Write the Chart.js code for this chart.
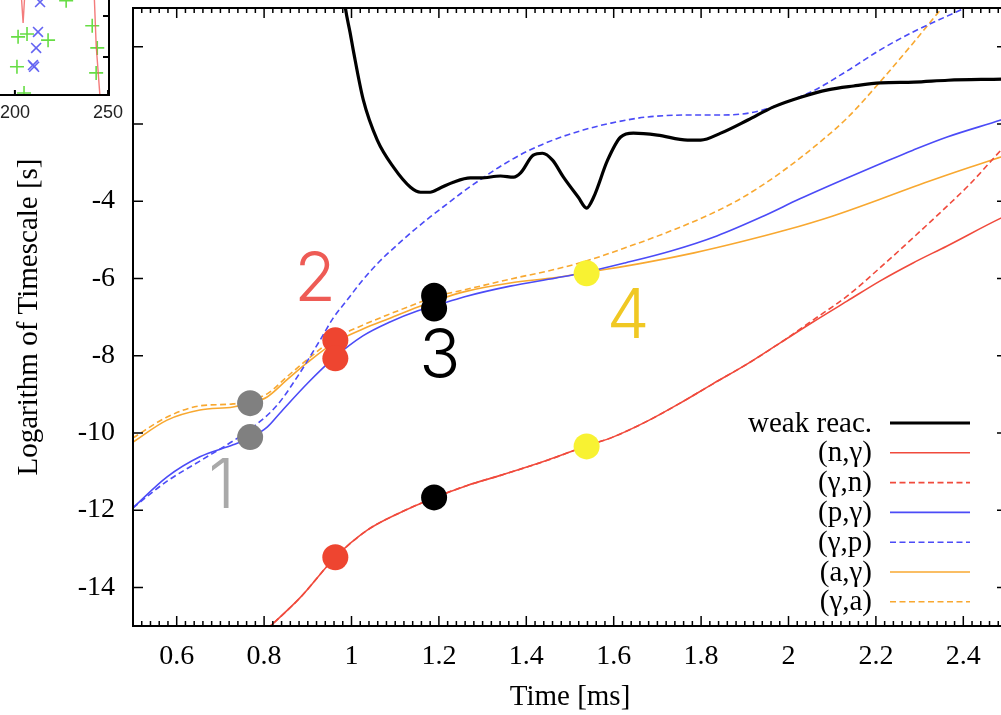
<!DOCTYPE html>
<html>
<head>
<meta charset="utf-8">
<script src="https://cdn.jsdelivr.net/npm/chart.js@4.4.0/dist/chart.umd.min.js"></script>
<style>
  html, body { margin: 0; padding: 0; background: #fff; overflow: hidden; }
  #wrap { position: relative; width: 1008px; height: 715px; overflow: hidden; }
  #main { position: absolute; left: 0; top: 0; }
  #inset { position: absolute; left: 0; top: 0; background: #fff; }
</style>
</head>
<body>
<div id="wrap">
  <canvas id="main" width="1008" height="715"></canvas>
  <canvas id="inset" width="125" height="135"></canvas>
</div>
<script>
// 축 눈금
const xTicks = [0.6, 0.8, 1.0, 1.2, 1.4, 1.6, 1.8, 2.0, 2.2, 2.4];
const xMinorStep = 0.02;
const yTicks = [-14, -12, -10, -8, -6, -4, -2, 0];

// 범례 이름
const seriesLabels = ["weak reac.", "(n,γ)", "(γ,n)", "(p,γ)", "(γ,p)", "(a,γ)", "(γ,a)"];

// 곡선 데이터 [시간 ms, log 시간척도 s]
const weakReac = [
    [0.975, 2.0], [0.986, 1.0], [0.997, 0.35], [1.004, -0.09], [1.027, -1.38], [1.059, -2.42],
    [1.096, -3.12], [1.135, -3.64], [1.158, -3.77], [1.180, -3.77], [1.203, -3.66], [1.233, -3.51],
    [1.272, -3.40], [1.295, -3.40], [1.341, -3.35], [1.371, -3.38], [1.387, -3.27], [1.416, -2.81],
    [1.437, -2.76], [1.460, -2.94], [1.485, -3.38], [1.519, -3.90], [1.538, -4.18], [1.554, -3.90],
    [1.586, -2.94], [1.616, -2.34], [1.645, -2.24], [1.700, -2.29], [1.769, -2.42], [1.799, -2.42],
    [1.845, -2.24], [1.907, -1.90], [1.966, -1.56], [2.028, -1.31], [2.090, -1.12], [2.149, -1.02],
    [2.211, -0.94], [2.287, -0.92], [2.365, -0.87], [2.489, -0.84], [2.52, -0.83],
];
const nGamma = [
    [0.76, -15.6], [0.814, -15.01], [0.883, -14.26], [0.963, -13.22], [1.036, -12.52], [1.112, -12.06],
    [1.187, -11.69], [1.265, -11.36], [1.341, -11.10], [1.448, -10.71], [1.537, -10.34], [1.598, -10.11],
    [1.678, -9.69], [1.752, -9.23], [1.827, -8.73], [1.905, -8.22], [1.981, -7.67], [2.056, -7.13],
    [2.134, -6.59], [2.209, -6.07], [2.285, -5.60], [2.363, -5.16], [2.486, -4.44], [2.52, -4.27],
];
const gammaN = [
    [0.76, -15.6], [0.814, -15.01], [0.883, -14.26], [0.963, -13.22], [1.036, -12.52], [1.112, -12.06],
    [1.187, -11.69], [1.265, -11.36], [1.341, -11.10], [1.448, -10.71], [1.537, -10.34], [1.598, -10.11],
    [1.678, -9.69], [1.752, -9.23], [1.827, -8.73], [1.905, -8.22], [1.981, -7.67], [2.056, -7.08],
    [2.134, -6.46], [2.209, -5.73], [2.285, -4.95], [2.363, -4.13], [2.415, -3.56], [2.486, -2.68], [2.507, -2.42],
];
const pGamma = [
    [0.5, -11.94], [0.578, -11.14], [0.653, -10.62], [0.729, -10.31], [0.768, -10.13], [0.807, -9.85],
    [0.836, -9.49], [0.900, -8.71], [0.960, -8.06], [1.026, -7.49], [1.088, -7.13], [1.152, -6.84],
    [1.189, -6.72], [1.257, -6.48], [1.363, -6.20], [1.468, -5.99], [1.537, -5.84], [1.626, -5.60],
    [1.731, -5.29], [1.836, -4.90], [1.942, -4.39], [2.026, -3.94], [2.134, -3.40], [2.209, -3.04],
    [2.285, -2.68], [2.363, -2.34], [2.486, -1.90], [2.507, -1.82],
];
const gammaP = [
    [0.5, -11.94], [0.578, -11.25], [0.653, -10.73], [0.729, -10.21], [0.775, -9.85], [0.830, -9.28],
    [0.876, -8.55], [0.928, -7.60], [0.958, -7.03], [0.990, -6.56], [1.026, -6.04], [1.065, -5.55],
    [1.104, -5.14], [1.141, -4.77], [1.180, -4.41], [1.219, -4.07], [1.255, -3.76], [1.294, -3.45],
    [1.342, -3.09], [1.404, -2.70], [1.468, -2.39], [1.530, -2.16], [1.594, -1.98], [1.678, -1.82],
    [1.784, -1.77], [1.846, -1.77], [1.910, -1.72], [1.951, -1.61], [1.981, -1.49], [2.056, -1.15],
    [2.134, -0.63], [2.209, -0.09], [2.285, 0.38], [2.363, 0.79], [2.404, 1.0], [2.486, 1.41],
];
const aGamma = [
    [0.5, -10.24], [0.578, -9.67], [0.653, -9.41], [0.729, -9.33], [0.768, -9.23], [0.807, -9.07],
    [0.852, -8.63], [0.898, -8.19], [0.960, -7.67], [1.026, -7.31], [1.088, -7.03], [1.152, -6.74],
    [1.189, -6.59], [1.257, -6.35], [1.363, -6.12], [1.468, -5.98], [1.537, -5.85], [1.678, -5.58],
    [1.784, -5.34], [1.889, -5.06], [1.994, -4.75], [2.100, -4.39], [2.205, -3.97], [2.310, -3.53],
    [2.415, -3.12], [2.486, -2.86], [2.507, -2.78],
];
const gammaA = [
    [0.5, -10.13], [0.578, -9.59], [0.653, -9.30], [0.729, -9.25], [0.768, -9.15], [0.807, -8.99],
    [0.852, -8.55], [0.898, -8.11], [0.960, -7.57], [1.026, -7.21], [1.088, -6.92], [1.152, -6.64],
    [1.189, -6.48], [1.257, -6.30], [1.363, -6.02], [1.468, -5.76], [1.537, -5.55], [1.626, -5.21],
    [1.731, -4.77], [1.836, -4.26], [1.905, -3.84], [1.981, -3.27], [2.056, -2.62], [2.134, -1.85],
    [2.209, -0.92], [2.285, 0.09], [2.351, 1.0], [2.507, 3.15],
];

// 단계 표시 점
const grayDots = [[0.768, -9.23], [0.768, -10.11]];
const redDots = [[0.963, -7.60], [0.963, -8.07], [0.963, -13.22]];
const blackDots = [[1.189, -6.45], [1.189, -6.78], [1.189, -11.67]];
const yellowDots = [[1.538, -5.87], [1.538, -10.35]];

// 단계 번호
const stageLabels = ["1", "2", "3", "4"];
const stageLabelX = [0.703, 0.917, 1.202, 1.633];
const stageLabelY = [-11.41, -6.05, -8.04, -7.01];
const stageColors = ["#a9a9a9", "#ee5b55", "#000000", "#f0c823"];

// 삽입 그림 데이터
const insetXTicks = [200, 250];
const insetYTicks = [1, 2];
const insetGreen = [
    [227.5, 2.37], [201.7, 1.49], [206.5, 1.56], [217.8, 1.41], [201.1, 0.76],
    [204.9, 0.12], [241.5, 1.76], [244.2, 1.22], [243.6, 0.61],
];
const insetBlue = [[213.5, 2.34], [212.4, 1.61], [211.4, 1.22], [209.7, 0.80], [210.3, 0.76]];
const insetRedA = [[203.3, 2.6], [204.4, 1.83], [205.4, 2.6]];
const insetRedB = [[242.5, 2.6], [243.6, 1.29], [245.8, -0.05]];

function toXY(arr) {
    return arr.map(([x, y]) => ({ x, y }));
}

const RED = "#f04a3c";
const BLUE = "#4b4bf7";
const ORANGE = "#f8a830";
const DASH = [6, 3.5];
const SERIF = "'Liberation Serif', 'Times New Roman', serif";

// 테두리와 안쪽 눈금
const frameTicks = {
    id: "frameTicks",
    afterDatasetsDraw(chart) {
        const { ctx, chartArea: a, scales: { x, y } } = chart;
        ctx.save();
        ctx.strokeStyle = "#000";
        ctx.lineWidth = 1.5;
        ctx.beginPath();
        const n = Math.round((x.max - x.min) / xMinorStep);
        for (let i = 0; i <= n; i++) {
            const px = x.getPixelForValue(x.min + i * xMinorStep);
            ctx.moveTo(px, a.bottom); ctx.lineTo(px, a.bottom - 5);
            ctx.moveTo(px, a.top); ctx.lineTo(px, a.top + 5);
        }
        x.ticks.forEach((t) => {
            const px = x.getPixelForValue(t.value);
            ctx.moveTo(px, a.bottom); ctx.lineTo(px, a.bottom - 10);
            ctx.moveTo(px, a.top); ctx.lineTo(px, a.top + 10);
        });
        y.ticks.forEach((t) => {
            const py = y.getPixelForValue(t.value);
            ctx.moveTo(a.left, py); ctx.lineTo(a.left + 10, py);
            ctx.moveTo(a.right, py); ctx.lineTo(a.right - 10, py);
        });
        ctx.stroke();
        ctx.lineWidth = 2;
        ctx.strokeRect(a.left, a.top, a.right - a.left, a.bottom - a.top);
        ctx.restore();
    },
};

// 단계 번호 그리기
const stageNumbers = {
    id: "stageNumbers",
    afterDatasetsDraw(chart) {
        const { ctx, scales: { x, y } } = chart;
        ctx.save();
        ctx.font = "300 68px Inter, Lato, 'Liberation Sans', sans-serif";
        ctx.textAlign = "center";
        ctx.textBaseline = "middle";
        stageLabels.forEach((txt, i) => {
            ctx.fillStyle = stageColors[i];
            ctx.fillText(txt, x.getPixelForValue(stageLabelX[i]), y.getPixelForValue(stageLabelY[i]));
        });
        ctx.restore();
    },
};

// 그림 안쪽 범례
const insideLegend = {
    id: "insideLegend",
    afterDraw(chart) {
        const { ctx, chartArea: a } = chart;
        const items = chart.data.datasets.filter((d) => d.showLine !== false);
        ctx.save();
        ctx.font = "29px " + SERIF;
        ctx.textAlign = "right";
        ctx.textBaseline = "middle";
        items.forEach((d, i) => {
            const yy = a.bottom - 203 + i * 29.8;
            ctx.fillStyle = "#000";
            ctx.fillText(d.label, a.right - 135, yy + 1);
            ctx.strokeStyle = d.borderColor;
            ctx.lineWidth = d.borderWidth;
            ctx.setLineDash(d.borderDash || []);
            ctx.beginPath();
            ctx.moveTo(a.right - 117, yy);
            ctx.lineTo(a.right - 37, yy);
            ctx.stroke();
        });
        ctx.restore();
    },
};

function dotSet(points, color) {
    return {
        data: toXY(points),
        showLine: false,
        pointRadius: 13,
        pointBackgroundColor: color,
        pointBorderWidth: 0,
        order: 0,
    };
}

function lineSet(label, points, color, width, dash) {
    return {
        label,
        data: toXY(points),
        borderColor: color,
        borderWidth: width,
        borderDash: dash || [],
        pointRadius: 0,
        fill: false,
        cubicInterpolationMode: "monotone",
        order: 1,
    };
}

new Chart(document.getElementById("main"), {
    type: "line",
    data: {
        datasets: [
            lineSet(seriesLabels[0], weakReac, "#000000", 3.2),
            lineSet(seriesLabels[1], nGamma, RED, 1.6),
            lineSet(seriesLabels[2], gammaN, RED, 1.6, DASH),
            lineSet(seriesLabels[3], pGamma, BLUE, 1.6),
            lineSet(seriesLabels[4], gammaP, BLUE, 1.6, DASH),
            lineSet(seriesLabels[5], aGamma, ORANGE, 1.6),
            lineSet(seriesLabels[6], gammaA, ORANGE, 1.6, DASH),
            dotSet(grayDots, "#808080"),
            dotSet(redDots, "#ee4530"),
            dotSet(blackDots, "#000000"),
            dotSet(yellowDots, "#f8f232"),
        ],
    },
    options: {
        responsive: false,
        animation: false,
        events: [],
        layout: { autoPadding: false, padding: { top: 8, right: 1, left: 0, bottom: 0 } },
        plugins: { legend: { display: false }, tooltip: { enabled: false } },
        scales: {
            x: {
                type: "linear",
                min: 0.5,
                max: 2.5,
                afterBuildTicks: (s) => { s.ticks = xTicks.map((v) => ({ value: v })); },
                afterFit: (s) => { s.height = 89; s.paddingLeft = 0; s.paddingRight = 0; },
                grid: { display: false, drawTicks: false },
                border: { display: false },
                ticks: {
                    padding: 14,
                    color: "#000",
                    autoSkip: false,
                    maxRotation: 0,
                    font: { family: SERIF, size: 28 },
                    callback: (v) => String(Number(v.toFixed(1))),
                },
                title: {
                    display: true,
                    text: "Time [ms]",
                    color: "#000",
                    font: { family: SERIF, size: 29 },
                    padding: { top: 0, bottom: 0 },
                },
            },
            y: {
                type: "linear",
                min: -15,
                max: 1,
                afterBuildTicks: (s) => { s.ticks = yTicks.map((v) => ({ value: v })); },
                afterFit: (s) => { s.width = 133; s.paddingTop = 0; s.paddingBottom = 0; },
                grid: { display: false, drawTicks: false },
                border: { display: false },
                ticks: {
                    padding: 18,
                    color: "#000",
                    autoSkip: false,
                    font: { family: SERIF, size: 28 },
                    callback: (v) => String(v),
                },
                title: {
                    display: true,
                    text: "Logarithm of Timescale [s]",
                    color: "#000",
                    font: { family: SERIF, size: 29 },
                    padding: { top: 12, bottom: 0 },
                },
            },
        },
    },
    plugins: [frameTicks, stageNumbers, insideLegend],
});

// 삽입 그림 테두리
const insetFrame = {
    id: "insetFrame",
    afterDatasetsDraw(chart) {
        const { ctx, chartArea: a, scales: { x, y } } = chart;
        ctx.save();
        ctx.strokeStyle = "#000";
        ctx.lineWidth = 2;
        ctx.beginPath();
        ctx.moveTo(0, a.bottom); ctx.lineTo(a.right, a.bottom); ctx.lineTo(a.right, 0);
        x.ticks.forEach((t) => {
            const px = x.getPixelForValue(t.value);
            ctx.moveTo(px, a.bottom); ctx.lineTo(px, a.bottom - 5);
        });
        insetYTicks.forEach((v) => {
            const py = y.getPixelForValue(v);
            ctx.moveTo(a.right, py); ctx.lineTo(a.right - 6, py);
        });
        ctx.stroke();
        ctx.restore();
    },
};

new Chart(document.getElementById("inset"), {
    type: "scatter",
    data: {
        datasets: [
            { data: toXY(insetRedA), showLine: true, borderColor: "rgba(240,90,90,0.8)", borderWidth: 1.4, pointRadius: 0 },
            { data: toXY(insetRedB), showLine: true, borderColor: "rgba(240,90,90,0.8)", borderWidth: 1.4, pointRadius: 0 },
            { data: toXY(insetBlue), pointStyle: "crossRot", pointRadius: 7, borderColor: "#6464f2", borderWidth: 1.6 },
            { data: toXY(insetGreen), pointStyle: "cross", pointRadius: 7, borderColor: "#66dd44", borderWidth: 1.6 },
        ],
    },
    options: {
        responsive: false,
        animation: false,
        events: [],
        layout: { autoPadding: false, padding: { top: 0, right: 16, left: 0, bottom: 0 } },
        plugins: { legend: { display: false }, tooltip: { enabled: false } },
        scales: {
            x: {
                type: "linear",
                min: 192,
                max: 250.5,
                afterBuildTicks: (s) => { s.ticks = insetXTicks.map((v) => ({ value: v })); },
                afterFit: (s) => { s.height = 40; s.paddingLeft = 0; s.paddingRight = 0; },
                grid: { display: false, drawTicks: false },
                border: { display: false },
                ticks: {
                    padding: 7,
                    color: "#222",
                    autoSkip: false,
                    maxRotation: 0,
                    font: { family: "'Liberation Sans', Arial, sans-serif", size: 18 },
                },
            },
            y: { display: false, min: 0.07, max: 2.39 },
        },
    },
    plugins: [insetFrame],
});
</script>
</body>
</html>
